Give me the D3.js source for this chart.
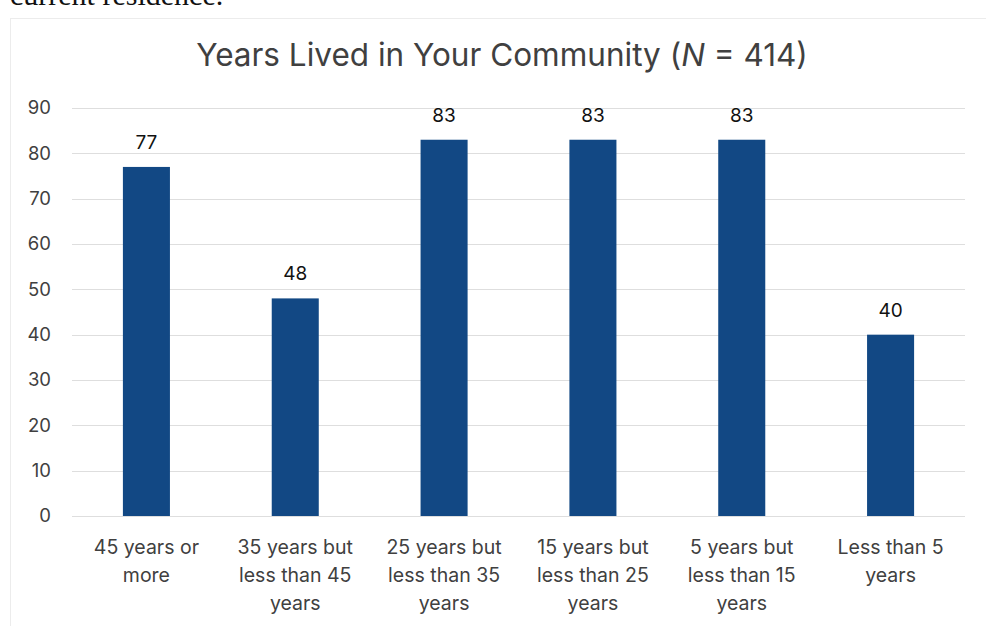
<!DOCTYPE html>
<html><head><meta charset="utf-8">
<script src="https://cdn.jsdelivr.net/npm/d3@7"></script>
<style>body{margin:0;background:#fff}svg{display:block}</style>
</head><body>
<svg id="c" width="986" height="626"></svg>
<script>
const categories = [
  ["45 years or","more"],
  ["35 years but","less than 45","years"],
  ["25 years but","less than 35","years"],
  ["15 years but","less than 25","years"],
  ["5 years but","less than 15","years"],
  ["Less than 5","years"]
];
const values = [77, 48, 83, 83, 83, 40];
const yTicks = [0,10,20,30,40,50,60,70,80,90];

const svg = d3.select("#c");
const font = "Inter, 'Open Sans', sans-serif";
const txt = "#404040";

// cut-off preceding text
svg.append("text").attr("x", 10).attr("y", 5)
  .attr("font-family", "'Liberation Serif', 'Times New Roman', serif")
  .attr("font-size", 30).attr("fill", "#111").text("current residence.");

// faint chart frame
svg.append("rect").attr("x", 10.5).attr("y", 18.5).attr("width", 990).attr("height", 640)
  .attr("fill", "none").attr("stroke", "#ececec");

const x = d3.scaleBand().domain(d3.range(values.length)).range([72, 965]).paddingInner(0.684).paddingOuter(0.342);
const y = d3.scaleLinear().domain([0, 90]).range([516, 108]);

// gridlines
svg.append("g").selectAll("line").data(yTicks).join("line")
  .attr("x1", 72).attr("x2", 965)
  .attr("y1", d => Math.round(y(d)) + 0.5).attr("y2", d => Math.round(y(d)) + 0.5)
  .attr("stroke", "#dedede").attr("stroke-width", 1.2);

// y axis labels
const yAxis = d3.axisLeft(y).tickValues(yTicks).tickSize(0).tickPadding(0);
const ga = svg.append("g").attr("transform", "translate(51,0)").call(yAxis);
ga.select(".domain").remove();
ga.selectAll("text").attr("font-family", font).attr("font-size", 18.5).attr("fill", txt)
  .attr("text-anchor", "end");

// bars
svg.append("g").selectAll("rect").data(values).join("rect")
  .attr("x", (d,i) => x(i)).attr("width", x.bandwidth())
  .attr("y", d => y(d)).attr("height", d => y(0) - y(d))
  .attr("fill", "#124884");

// value labels
svg.append("g").selectAll("text").data(values).join("text")
  .attr("x", (d,i) => x(i) + x.bandwidth()/2).attr("y", d => y(d) - 18)
  .attr("text-anchor", "middle").attr("font-family", font).attr("font-size", 19)
  .attr("fill", "#111").text(d => d);

// category labels
const cg = svg.append("g").selectAll("text").data(categories).join("text")
  .attr("x", (d,i) => x(i) + x.bandwidth()/2).attr("y", 554)
  .attr("text-anchor", "middle").attr("font-family", font).attr("font-size", 19.5).attr("fill", txt);
cg.selectAll("tspan").data(d => d).join("tspan")
  .attr("x", function(){ return d3.select(this.parentNode).attr("x"); })
  .attr("dy", (d,i) => i === 0 ? 0 : 28).text(d => d);

// title
const t = svg.append("text").attr("x", 502).attr("y", 66).attr("text-anchor", "middle")
  .attr("font-family", font).attr("font-size", 31.5).attr("fill", txt);
t.append("tspan").text("Years Lived in Your Community (");
t.append("tspan").attr("font-style", "italic").text("N");
t.append("tspan").text(" = 414)");
</script>
</body></html>
